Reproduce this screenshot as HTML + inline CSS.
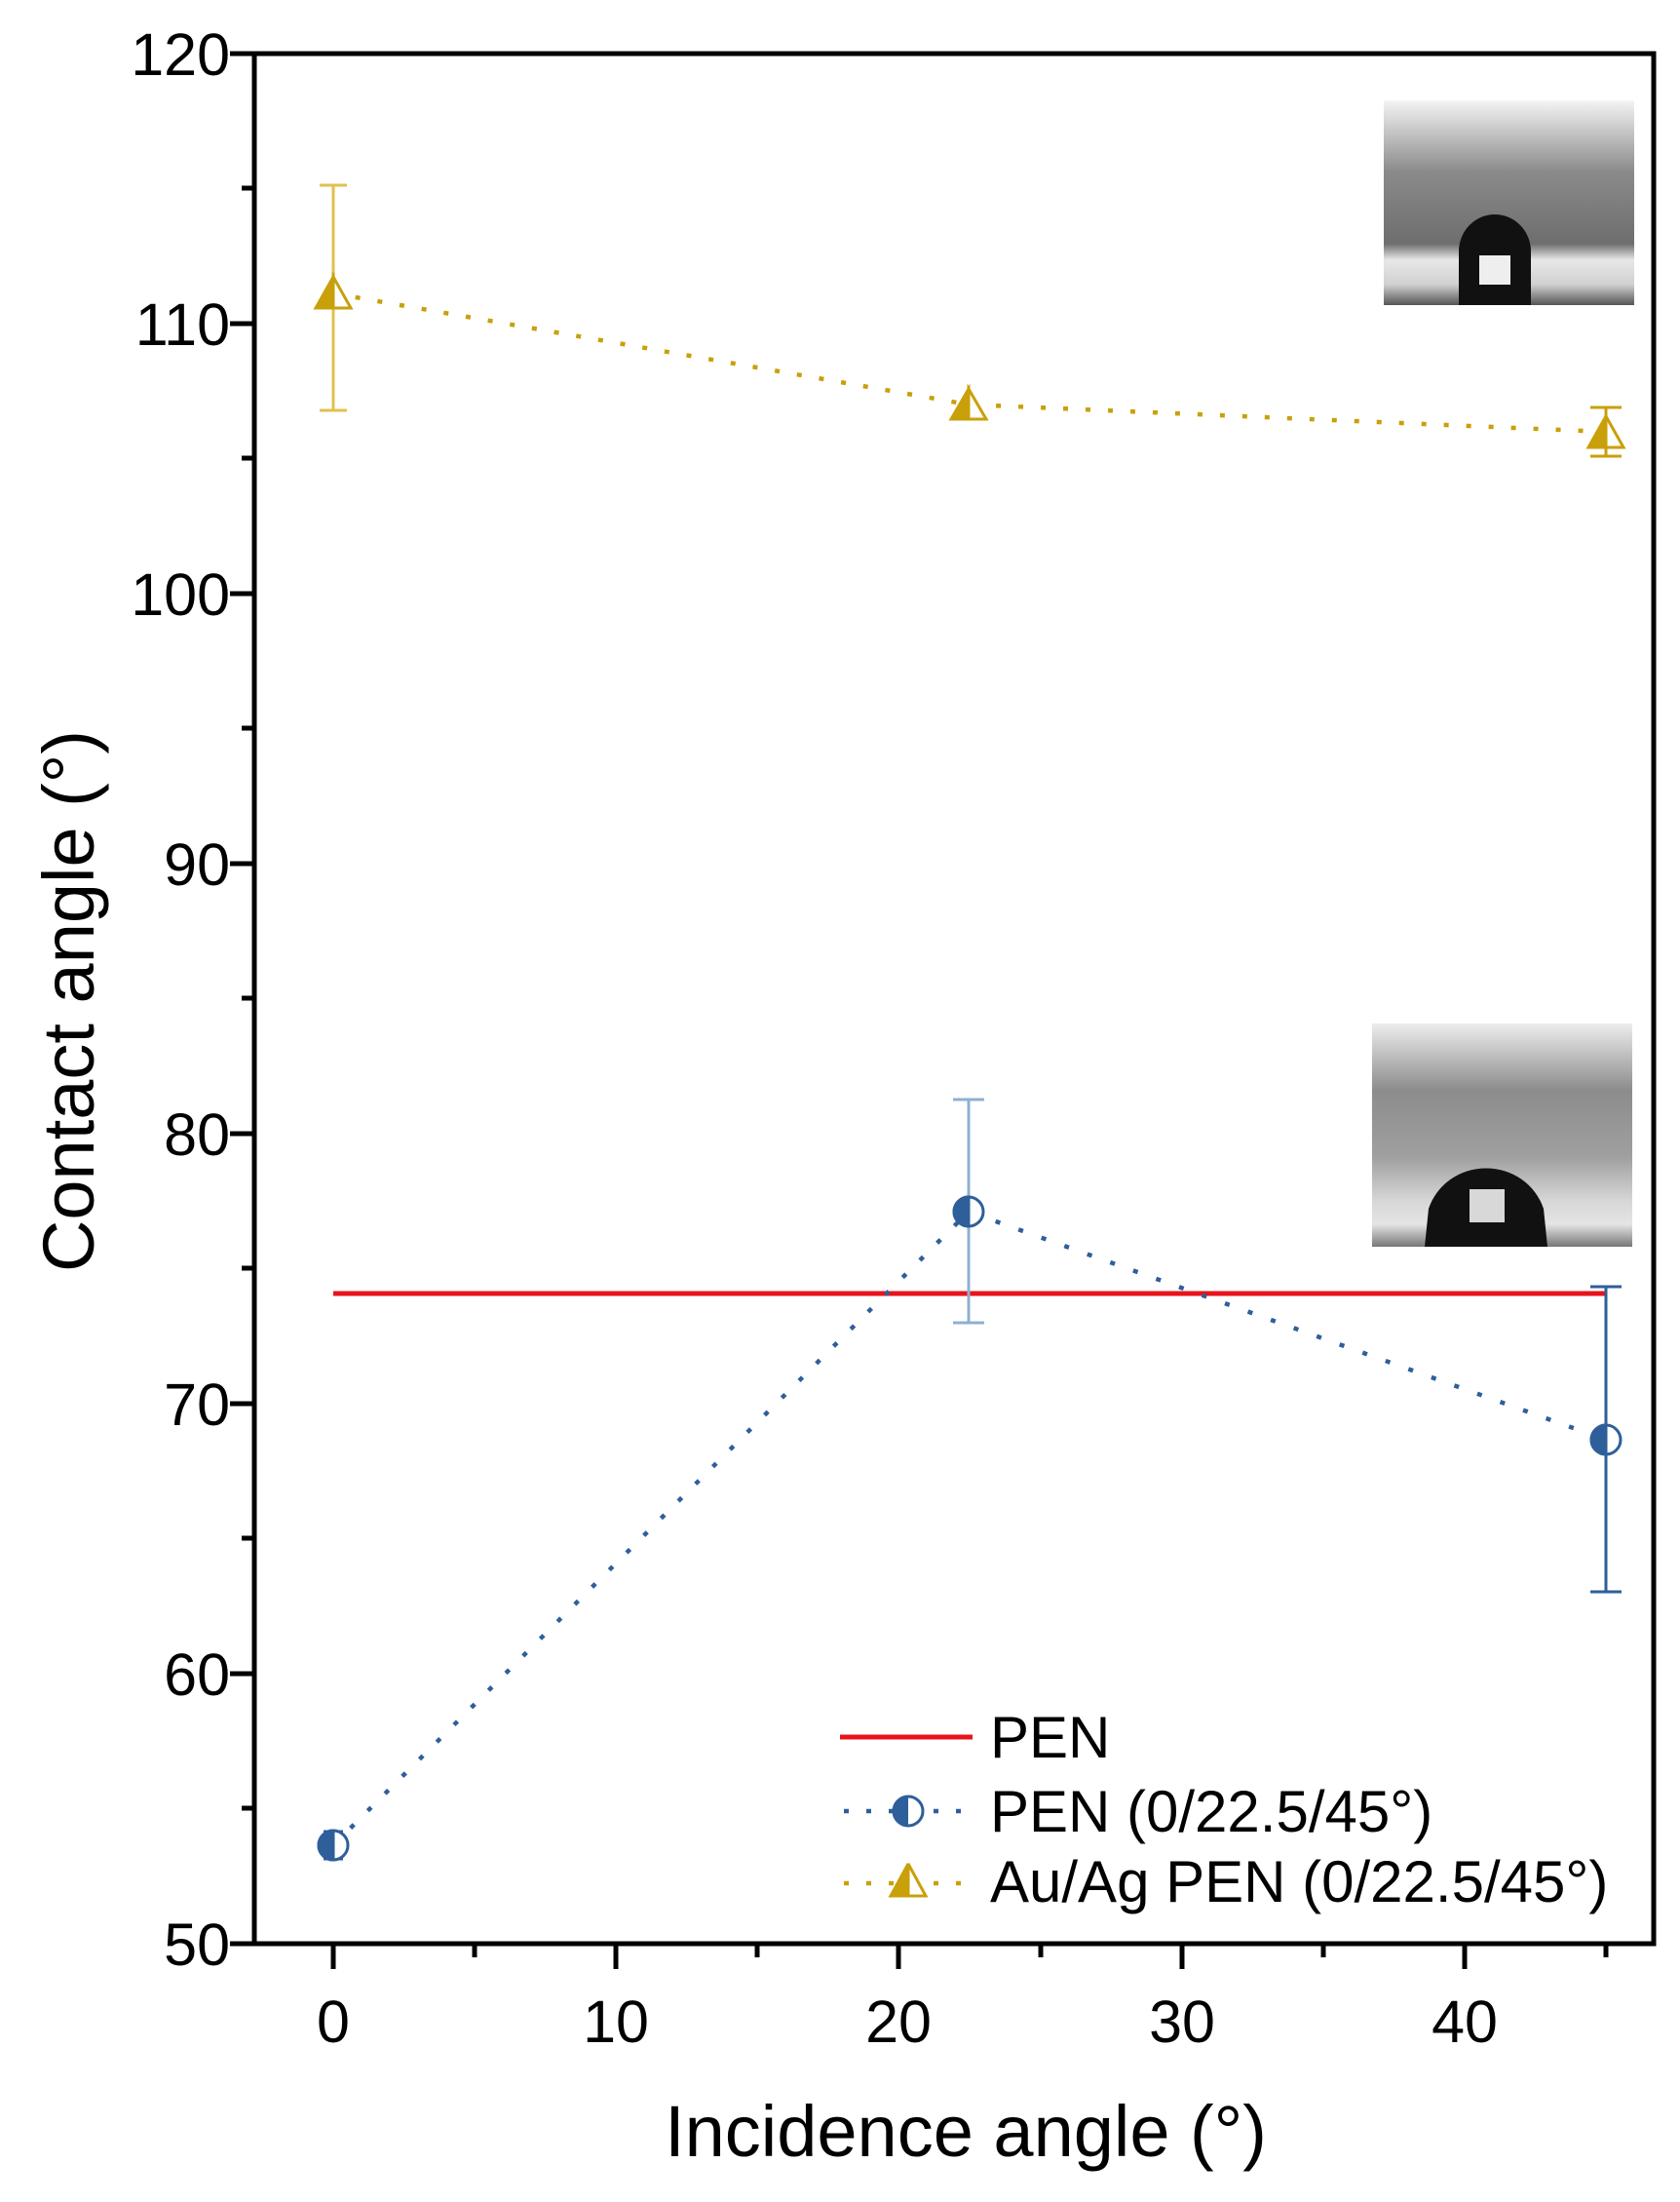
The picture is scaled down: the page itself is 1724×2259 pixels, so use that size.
<!DOCTYPE html>
<html><head><meta charset="utf-8"><style>
html,body{margin:0;padding:0;background:#fff;}
svg{display:block;}
text{font-family:"Liberation Sans",Arial,sans-serif;fill:#000;}
</style></head><body>
<svg width="1724" height="2259" viewBox="0 0 1724 2259" xmlns="http://www.w3.org/2000/svg">
<defs>
<linearGradient id="g1" x1="0" y1="0" x2="0" y2="1">
<stop offset="0" stop-color="#f4f4f4"/><stop offset="0.35" stop-color="#8a8a8a"/><stop offset="0.7" stop-color="#6e6e6e"/><stop offset="0.78" stop-color="#e8e8e8"/><stop offset="0.9" stop-color="#d0d0d0"/><stop offset="1" stop-color="#555"/>
</linearGradient>
<linearGradient id="g2" x1="0" y1="0" x2="0" y2="1">
<stop offset="0" stop-color="#ededed"/><stop offset="0.3" stop-color="#8c8c8c"/><stop offset="0.6" stop-color="#a0a0a0"/><stop offset="0.8" stop-color="#d8d8d8"/><stop offset="0.9" stop-color="#e4e4e4"/><stop offset="1" stop-color="#777"/>
</linearGradient>
</defs>

<!-- insets -->
<rect x="1420" y="103" width="257" height="210" fill="url(#g1)"/>
<path d="M1497 313 L1497 258 A37 38 0 0 1 1571 258 L1571 313 Z" fill="#111"/>
<rect x="1518" y="262" width="32" height="30" fill="#eee"/>
<rect x="1408" y="1050" width="267" height="229" fill="url(#g2)"/>
<path d="M1462 1279 L1466 1240 A62 60 0 0 1 1584 1240 L1588 1279 Z" fill="#111"/>
<rect x="1508" y="1220" width="36" height="34" fill="#d8d8d8"/>

<!-- axes box -->
<rect x="261" y="55" width="1436" height="1939" fill="none" stroke="#000" stroke-width="5"/>

<!-- y ticks -->
<g stroke="#000" stroke-width="5">
<line x1="236" y1="55" x2="261" y2="55"/>
<line x1="236" y1="332" x2="261" y2="332"/>
<line x1="236" y1="609" x2="261" y2="609"/>
<line x1="236" y1="886" x2="261" y2="886"/>
<line x1="236" y1="1163" x2="261" y2="1163"/>
<line x1="236" y1="1440" x2="261" y2="1440"/>
<line x1="236" y1="1717" x2="261" y2="1717"/>
<line x1="236" y1="1994" x2="261" y2="1994"/>
<line x1="248" y1="193" x2="261" y2="193"/>
<line x1="248" y1="470" x2="261" y2="470"/>
<line x1="248" y1="747" x2="261" y2="747"/>
<line x1="248" y1="1024" x2="261" y2="1024"/>
<line x1="248" y1="1301" x2="261" y2="1301"/>
<line x1="248" y1="1578" x2="261" y2="1578"/>
<line x1="248" y1="1855" x2="261" y2="1855"/>
<!-- x ticks -->
<line x1="342" y1="1994" x2="342" y2="2020"/>
<line x1="632" y1="1994" x2="632" y2="2020"/>
<line x1="922" y1="1994" x2="922" y2="2020"/>
<line x1="1213" y1="1994" x2="1213" y2="2020"/>
<line x1="1503" y1="1994" x2="1503" y2="2020"/>
<line x1="487" y1="1994" x2="487" y2="2008"/>
<line x1="777" y1="1994" x2="777" y2="2008"/>
<line x1="1068" y1="1994" x2="1068" y2="2008"/>
<line x1="1358" y1="1994" x2="1358" y2="2008"/>
<line x1="1648" y1="1994" x2="1648" y2="2008"/>
</g>

<!-- tick labels -->
<g font-size="61" text-anchor="end">
<text x="236" y="77">120</text>
<text x="236" y="354">110</text>
<text x="236" y="631">100</text>
<text x="236" y="908">90</text>
<text x="236" y="1185">80</text>
<text x="236" y="1462">70</text>
<text x="236" y="1739">60</text>
<text x="236" y="2016">50</text>
</g>
<g font-size="61" text-anchor="middle">
<text x="342" y="2095">0</text>
<text x="632" y="2095">10</text>
<text x="922" y="2095">20</text>
<text x="1213" y="2095">30</text>
<text x="1503" y="2095">40</text>
</g>
<text x="991" y="2212" font-size="74" text-anchor="middle">Incidence angle (°)</text>
<text transform="translate(96,1027) rotate(-90)" font-size="74" text-anchor="middle">Contact angle (°)</text>

<!-- PEN red line -->
<line x1="342" y1="1327" x2="1648" y2="1327" stroke="#e8141b" stroke-width="5"/>

<!-- Au/Ag series -->
<polyline points="342,301 994,415 1648,443" fill="none" stroke="#c9a00a" stroke-width="4.5" stroke-dasharray="5,18"/>
<g stroke="#e0c050" stroke-width="3" fill="none">
<line x1="342" y1="190" x2="342" y2="421"/><line x1="328" y1="190" x2="356" y2="190"/><line x1="328" y1="421" x2="356" y2="421"/>
</g>
<g stroke="#c9a00a" stroke-width="3" fill="none">
<line x1="1648" y1="418" x2="1648" y2="468"/><line x1="1632" y1="418" x2="1664" y2="418"/><line x1="1632" y1="468" x2="1664" y2="468"/>
</g>
<g stroke="#c9a00a" stroke-width="3">
<path d="M342 284 L324 316 L342 316 Z" fill="#c9a00a"/><path d="M342 284 L360 316 L342 316 Z" fill="#fff"/>
<path d="M994 399 L976 430 L994 430 Z" fill="#c9a00a"/><path d="M994 399 L1012 430 L994 430 Z" fill="#fff"/>
<path d="M1648 427 L1630 459 L1648 459 Z" fill="#c9a00a"/><path d="M1648 427 L1666 459 L1648 459 Z" fill="#fff"/>
</g>

<!-- PEN series -->
<polyline points="342,1893 994,1243 1648,1477" fill="none" stroke="#2e5f9a" stroke-width="4.5" stroke-dasharray="5,20"/>
<g stroke="#2e5f9a" stroke-width="3" fill="none">
<line x1="342" y1="1879" x2="342" y2="1907"/><line x1="332" y1="1879" x2="352" y2="1879"/><line x1="332" y1="1907" x2="352" y2="1907"/>
<line x1="1648" y1="1320" x2="1648" y2="1633"/><line x1="1632" y1="1320" x2="1664" y2="1320"/><line x1="1632" y1="1633" x2="1664" y2="1633"/>
</g>
<g stroke="#8fb0d0" stroke-width="3" fill="none">
<line x1="994" y1="1128" x2="994" y2="1357"/><line x1="978" y1="1128" x2="1010" y2="1128"/><line x1="978" y1="1357" x2="1010" y2="1357"/>
</g>
<g stroke="#2e5f9a" stroke-width="3">
<circle cx="342" cy="1893" r="15" fill="#fff"/><path d="M342 1878 A15 15 0 0 0 342 1908 Z" fill="#2e5f9a"/>
<circle cx="994" cy="1243" r="15" fill="#fff"/><path d="M994 1228 A15 15 0 0 0 994 1258 Z" fill="#2e5f9a"/>
<circle cx="1648" cy="1477" r="15" fill="#fff"/><path d="M1648 1462 A15 15 0 0 0 1648 1492 Z" fill="#2e5f9a"/>
</g>

<!-- legend -->
<line x1="862" y1="1782" x2="998" y2="1782" stroke="#e8141b" stroke-width="5"/>
<text x="1016" y="1803" font-size="60">PEN</text>
<line x1="866" y1="1858" x2="998" y2="1858" stroke="#2e5f9a" stroke-width="4.5" stroke-dasharray="5,18"/>
<circle cx="932" cy="1858" r="15" fill="#fff" stroke="#2e5f9a" stroke-width="3"/>
<path d="M932 1843 A15 15 0 0 0 932 1873 Z" fill="#2e5f9a"/>
<text x="1016" y="1879" font-size="60">PEN (0/22.5/45°)</text>
<line x1="866" y1="1932" x2="998" y2="1932" stroke="#c9a00a" stroke-width="4.5" stroke-dasharray="5,18"/>
<path d="M932 1912 L914 1945 L932 1945 Z" fill="#c9a00a" stroke="#c9a00a" stroke-width="3"/>
<path d="M932 1912 L950 1945 L932 1945 Z" fill="#fff" stroke="#c9a00a" stroke-width="3"/>
<text x="1016" y="1951" font-size="60">Au/Ag PEN (0/22.5/45°)</text>
</svg>
</body></html>
